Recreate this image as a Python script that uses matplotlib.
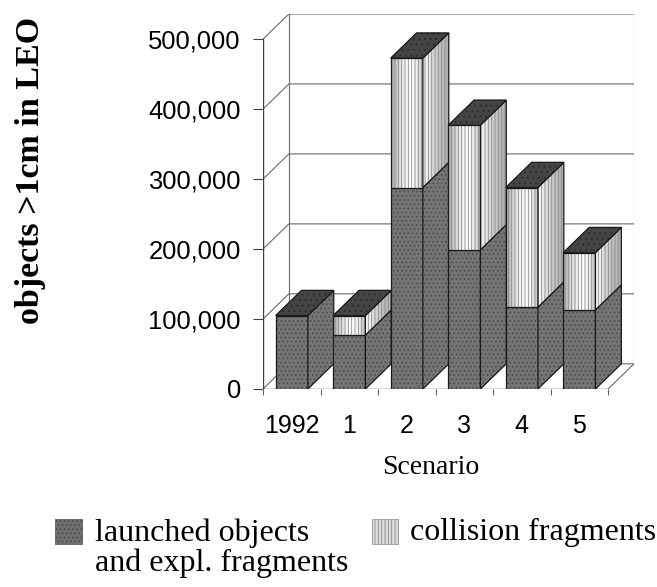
import numpy as np
import matplotlib
matplotlib.use("Agg")
import matplotlib.pyplot as plt
from matplotlib.patches import Polygon, Rectangle

# objects larger than 1 cm in low Earth orbit, per scenario
scenarios = ["1992", "1", "2", "3", "4", "5"]
launched = [105000, 77000, 288000, 199000, 117000, 113000]
collision = [0, 28000, 185000, 178000, 171000, 82000]
yticks = [0, 100000, 200000, 300000, 400000, 500000]
legend_labels = ["launched objects\nand expl. fragments", "collision fragments"]

plt.rcParams["hatch.linewidth"] = 0.6

# 3d depth offset in data units (x: categories, y: value)
dx = 0.45
dy = 36000
width = 0.56
ymax = yticks[-1]

# axes box holds the front plane plus the depth offset
fig = plt.figure(figsize=(6.57, 5.87), dpi=100)
ax = fig.add_axes([263 / 657, 198 / 587, 371 / 657, 375 / 587])
x0, x1 = -0.5, 5.5

# walls and floor
grid_kw = dict(color="#6a6a6a", lw=0.8, zorder=1)
for v in yticks[1:]:
    ax.plot([x0, x0 + dx, x1 + dx], [v, v + dy, v + dy], **grid_kw)
ax.plot([x0 + dx, x0 + dx], [dy, ymax + dy], **grid_kw)
ax.plot([x1 + dx, x1 + dx], [dy, ymax + dy], **grid_kw)
ax.plot([x0, x0 + dx, x1 + dx, x1], [0, dy, dy, 0], **grid_kw)
ax.plot([x0, x0], [0, ymax], color="#404040", lw=1.0, zorder=1)
ax.plot([x0, x1], [0, 0], color="#404040", lw=1.0, zorder=1)

front_shade = np.array([[0.70, 0.82, 0.92, 0.98, 1.0, 0.92, 0.80]])
side_shade = np.array([[0.96, 0.88, 0.80, 0.74, 0.70]])


def face(pts, kind, shade=None):
    pts = np.array(pts)
    if kind == "launched":
        ax.add_patch(Polygon(pts, closed=True, facecolor="#747474",
                             edgecolor="#4a4a4a", hatch="....", lw=0, zorder=2))
    elif kind == "collision":
        clip = Polygon(pts, closed=True, facecolor="none", lw=0, zorder=2)
        ax.add_patch(clip)
        im = ax.imshow(shade, cmap="gray", vmin=0, vmax=1, aspect="auto",
                       interpolation="bilinear", zorder=2,
                       extent=[pts[:, 0].min(), pts[:, 0].max(),
                               pts[:, 1].min(), pts[:, 1].max()])
        im.set_clip_path(clip)
        ax.add_patch(Polygon(pts, closed=True, facecolor="none",
                             edgecolor="#8c8c8c", hatch="|||||", lw=0, zorder=2))
    else:
        ax.add_patch(Polygon(pts, closed=True, facecolor="#454545",
                             edgecolor="#2a2a2a", hatch="...", lw=0, zorder=2))
    ax.add_patch(Polygon(pts, closed=True, facecolor="none",
                         edgecolor="#1a1a1a", lw=0.9, zorder=2))


for i, (lo, hi) in enumerate(zip(launched, collision)):
    xl, xr = i - width / 2, i + width / 2
    for kind, b, t in [("launched", 0, lo), ("collision", lo, lo + hi)]:
        if t <= b:
            continue
        face([(xl, b), (xr, b), (xr, t), (xl, t)], kind, front_shade)
        face([(xr, b), (xr + dx, b + dy), (xr + dx, t + dy), (xr, t)], kind, side_shade)
    top = lo + hi
    face([(xl, top), (xr, top), (xr + dx, top + dy), (xl + dx, top + dy)], "top")

ax.set_xlim(x0, x1 + dx)
ax.set_ylim(0, ymax + dy)
for s in ax.spines.values():
    s.set_visible(False)

ax.set_yticks(yticks)
ax.set_yticklabels([f"{v:,}" for v in yticks], fontsize=18.4, family="Liberation Sans")
ax.tick_params(axis="y", direction="out", length=7, width=0.8, color="#404040", pad=9)
ax.set_xticks(range(len(scenarios)))
ax.set_xticklabels(scenarios, fontsize=18, family="Liberation Sans")
ax.tick_params(axis="x", length=0, pad=18)
ax.set_xticks(np.arange(-0.5, 6, 1), minor=True)
ax.tick_params(axis="x", which="minor", direction="out", length=4, width=0.8, color="#606060")

fig.text(31 / 657, 1 - 170 / 587, "objects >1cm in LEO", rotation=90,
         ha="center", va="center", fontsize=24.5, fontweight="bold",
         family="Liberation Serif")
fig.text(431 / 657, 1 - 468 / 587, "Scenario", ha="center", va="center",
         fontsize=20, family="Liberation Serif")

# legend
fig.patches.append(Rectangle((55 / 657, 1 - 544 / 587), 27 / 657, 25 / 587,
                             transform=fig.transFigure, facecolor="#6e6e6e",
                             edgecolor="#4a4a4a", hatch="....", lw=0.5))
fig.patches.append(Rectangle((372 / 657, 1 - 544 / 587), 26 / 657, 25 / 587,
                             transform=fig.transFigure, facecolor="#dcdcdc",
                             edgecolor="#8c8c8c", hatch="|||||", lw=0.5))
fig.text(95 / 657, 1 - 518 / 587, legend_labels[0], ha="left", va="top",
         fontsize=23, family="Liberation Serif", linespacing=1.05)
fig.text(410 / 657, 1 - 518 / 587, legend_labels[1], ha="left", va="top",
         fontsize=23, family="Liberation Serif")

fig.savefig("out.png", dpi=100)
